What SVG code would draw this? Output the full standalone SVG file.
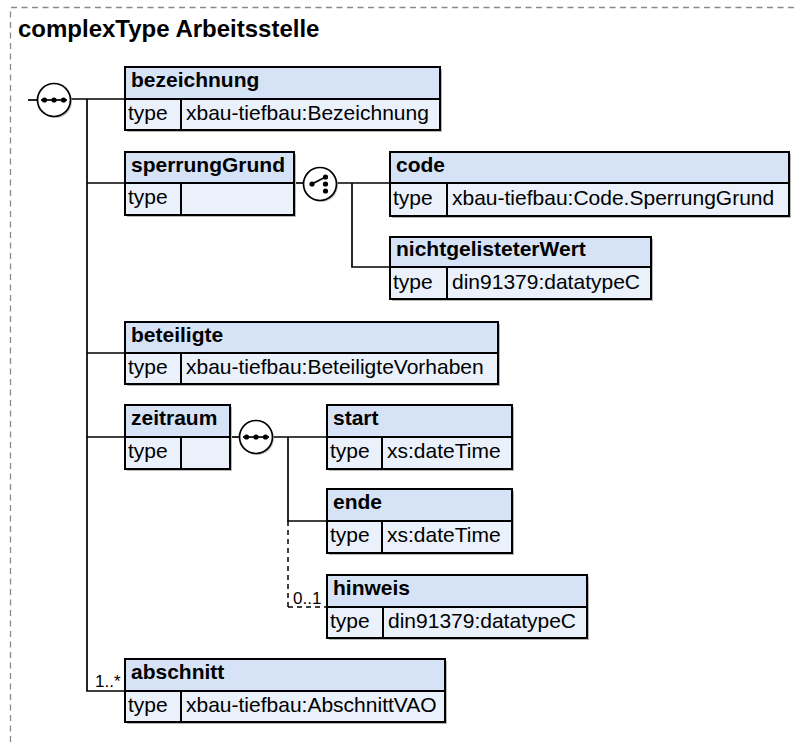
<svg xmlns="http://www.w3.org/2000/svg" width="798" height="742" viewBox="0 0 798 742">
<defs>
<style>
.frame{fill:none;stroke:#8a8a8a;stroke-width:1.3;stroke-dasharray:6,4.5}
.title{font-family:"Liberation Sans",Arial,sans-serif;font-weight:bold;font-size:24px;fill:#000}
.hd{fill:#d6e3f7;stroke:#000;stroke-width:2}
.bd{fill:#eaf1fb;stroke:#000;stroke-width:2}
.sh{fill:#b8b8b8}
.nm{font-family:"Liberation Sans",Arial,sans-serif;font-weight:bold;font-size:21px;fill:#000}
.tp{font-family:"Liberation Sans",Arial,sans-serif;font-size:21px;fill:#000}
.ln{fill:none;stroke:#000;stroke-width:1.7}
.dl{fill:none;stroke:#000;stroke-width:1.5;stroke-dasharray:5,4}
.occ{font-family:"Liberation Sans",Arial,sans-serif;font-size:17px;fill:#000}
.cir{fill:#fff;stroke:#000;stroke-width:1.7}
.csh{fill:#c8c8c8}
.dot{fill:#000}
</style>
</defs>
<rect width="798" height="742" fill="#fff"/>
<path class="frame" d="M10.5 742 V7.5 H798"/>
<text class="title" x="18" y="37">complexType Arbeitsstelle</text>

<g id="connectors">
<line class="ln" x1="28" y1="100" x2="38" y2="100"/>
<line class="ln" x1="70" y1="99" x2="125" y2="99"/>
<line class="ln" x1="87" y1="99" x2="87" y2="691"/>
<line class="ln" x1="87" y1="183" x2="125" y2="183"/>
<line class="ln" x1="87" y1="353" x2="125" y2="353"/>
<line class="ln" x1="87" y1="437" x2="125" y2="437"/>
<line class="ln" x1="86.2" y1="691" x2="125" y2="691"/>
<line class="ln" x1="294" y1="183" x2="304" y2="183"/>
<line class="ln" x1="336" y1="183" x2="390" y2="183"/>
<line class="ln" x1="352" y1="183" x2="352" y2="267"/>
<line class="ln" x1="351.2" y1="267" x2="390" y2="267"/>
<line class="ln" x1="230" y1="437" x2="240" y2="437"/>
<line class="ln" x1="272" y1="437" x2="327" y2="437"/>
<line class="ln" x1="288" y1="437" x2="288" y2="521"/>
<line class="ln" x1="287.2" y1="521" x2="327" y2="521"/>
<line class="dl" x1="288" y1="521" x2="288" y2="607"/>
<line class="dl" x1="288" y1="607" x2="327" y2="607"/>
<text class="occ" x="293" y="604">0..1</text>
<text class="occ" x="95" y="687">1..*</text>
</g>

<g id="seq1">
<circle class="csh" cx="55.5" cy="101.5" r="16.5"/>
<circle class="cir" cx="54" cy="100" r="16.5"/>
<line class="ln" x1="41" y1="100" x2="67" y2="100"/>
<circle class="dot" cx="44.5" cy="100" r="2.6"/>
<circle class="dot" cx="54" cy="100" r="2.6"/>
<circle class="dot" cx="63.5" cy="100" r="2.6"/>
</g>

<g id="choice1">
<circle class="csh" cx="321.5" cy="185.5" r="16.5"/>
<circle class="cir" cx="320" cy="184" r="16.5"/>
<line class="ln" x1="312" y1="184" x2="325.5" y2="177"/>
<circle class="dot" cx="312" cy="184" r="2.6"/>
<circle class="dot" cx="325.5" cy="177" r="2.6"/>
<circle class="dot" cx="325.5" cy="184" r="2.6"/>
<circle class="dot" cx="325.5" cy="191" r="2.6"/>
</g>

<g id="seq2">
<circle class="csh" cx="257.5" cy="438.5" r="16.5"/>
<circle class="cir" cx="256" cy="437" r="16.5"/>
<line class="ln" x1="243" y1="437" x2="269" y2="437"/>
<circle class="dot" cx="246.5" cy="437" r="2.6"/>
<circle class="dot" cx="256" cy="437" r="2.6"/>
<circle class="dot" cx="265.5" cy="437" r="2.6"/>
</g>

<g id="bezeichnung">
<rect class="sh" x="127" y="69" width="315" height="63"/>
<rect class="hd" x="125" y="67" width="315" height="32"/>
<rect class="bd" x="125" y="99" width="315" height="31"/>
<line class="ln" x1="181" y1="99" x2="181" y2="130" style="stroke-width:2"/>
<text class="nm" x="131" y="87">bezeichnung</text>
<text class="tp" x="128" y="120">type</text>
<text class="tp" x="186" y="120">xbau-tiefbau:Bezeichnung</text>
</g>

<g id="sperrungGrund">
<rect class="sh" x="127" y="154" width="169" height="63"/>
<rect class="hd" x="125" y="152" width="169" height="31"/>
<rect class="bd" x="125" y="183" width="169" height="32"/>
<line class="ln" x1="181" y1="183" x2="181" y2="215" style="stroke-width:2"/>
<text class="nm" x="131" y="172">sperrungGrund</text>
<text class="tp" x="128" y="204">type</text>
</g>

<g id="code">
<rect class="sh" x="392" y="154" width="399" height="64"/>
<rect class="hd" x="390" y="152" width="399" height="31"/>
<rect class="bd" x="390" y="183" width="399" height="33"/>
<line class="ln" x1="447" y1="183" x2="447" y2="216" style="stroke-width:2"/>
<text class="nm" x="396" y="172">code</text>
<text class="tp" x="393" y="205">type</text>
<text class="tp" x="452" y="205">xbau-tiefbau:Code.SperrungGrund</text>
</g>

<g id="nichtgelisteterWert">
<rect class="sh" x="392" y="239" width="261" height="62"/>
<rect class="hd" x="390" y="237" width="261" height="30"/>
<rect class="bd" x="390" y="267" width="261" height="32"/>
<line class="ln" x1="447" y1="267" x2="447" y2="299" style="stroke-width:2"/>
<text class="nm" x="396" y="256">nichtgelisteterWert</text>
<text class="tp" x="393" y="289">type</text>
<text class="tp" x="452" y="289">din91379:datatypeC</text>
</g>

<g id="beteiligte">
<rect class="sh" x="127" y="324" width="373" height="62"/>
<rect class="hd" x="125" y="322" width="373" height="31"/>
<rect class="bd" x="125" y="353" width="373" height="31"/>
<line class="ln" x1="181" y1="353" x2="181" y2="384" style="stroke-width:2"/>
<text class="nm" x="131" y="342">beteiligte</text>
<text class="tp" x="128" y="374">type</text>
<text class="tp" x="186" y="374">xbau-tiefbau:BeteiligteVorhaben</text>
</g>

<g id="zeitraum">
<rect class="sh" x="127" y="407" width="105" height="64"/>
<rect class="hd" x="125" y="405" width="105" height="32"/>
<rect class="bd" x="125" y="437" width="105" height="32"/>
<line class="ln" x1="181" y1="437" x2="181" y2="469" style="stroke-width:2"/>
<text class="nm" x="131" y="425">zeitraum</text>
<text class="tp" x="128" y="458">type</text>
</g>

<g id="start">
<rect class="sh" x="329" y="407" width="185" height="64"/>
<rect class="hd" x="327" y="405" width="185" height="32"/>
<rect class="bd" x="327" y="437" width="185" height="32"/>
<line class="ln" x1="382" y1="437" x2="382" y2="469" style="stroke-width:2"/>
<text class="nm" x="333" y="425">start</text>
<text class="tp" x="330" y="458">type</text>
<text class="tp" x="387" y="458">xs:dateTime</text>
</g>

<g id="ende">
<rect class="sh" x="329" y="491" width="185" height="64"/>
<rect class="hd" x="327" y="489" width="185" height="32"/>
<rect class="bd" x="327" y="521" width="185" height="32"/>
<line class="ln" x1="382" y1="521" x2="382" y2="553" style="stroke-width:2"/>
<text class="nm" x="333" y="509">ende</text>
<text class="tp" x="330" y="542">type</text>
<text class="tp" x="387" y="542">xs:dateTime</text>
</g>

<g id="hinweis">
<rect class="sh" x="329" y="577" width="260" height="63"/>
<rect class="hd" x="327" y="575" width="260" height="32"/>
<rect class="bd" x="327" y="607" width="260" height="31"/>
<line class="ln" x1="383" y1="607" x2="383" y2="638" style="stroke-width:2"/>
<text class="nm" x="333" y="595">hinweis</text>
<text class="tp" x="330" y="628">type</text>
<text class="tp" x="388" y="628">din91379:datatypeC</text>
</g>

<g id="abschnitt">
<rect class="sh" x="127" y="661" width="320" height="63"/>
<rect class="hd" x="125" y="659" width="320" height="32"/>
<rect class="bd" x="125" y="691" width="320" height="31"/>
<line class="ln" x1="181" y1="691" x2="181" y2="722" style="stroke-width:2"/>
<text class="nm" x="131" y="679">abschnitt</text>
<text class="tp" x="128" y="712">type</text>
<text class="tp" x="186" y="712">xbau-tiefbau:AbschnittVAO</text>
</g>
</svg>
